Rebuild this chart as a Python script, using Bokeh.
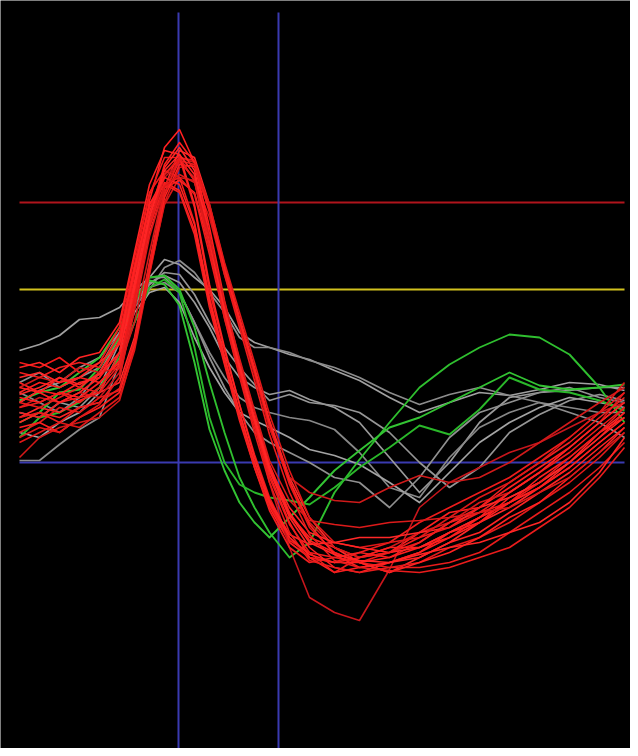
from bokeh.plotting import figure
from bokeh.models import ColumnDataSource, Range1d
from bokeh.embed import file_html
from bokeh.resources import INLINE

# time axis (samples)
t = [0, 20, 40, 60, 80, 100, 115, 130, 145, 160, 175, 190, 205, 220, 235,
     250, 270, 290, 315, 340, 370, 400, 430, 460, 490, 520, 550, 580, 605]

# reference levels
baseline_level = 0
yellow_level = 173
red_level = 260
cursor_1 = 159
cursor_2 = 259
cursor_top = 450

# red traces
red_01 = [60, 72, 68, 80, 85, 110, 180, 262, 315, 333, 300, 228, 155, 95, 42, -8, -52, -75, -85, -95, -90, -70, -50, -45, -25, -5, 15, 40, 60]
red_02 = [100, 95, 105, 90, 100, 135, 205, 270, 292, 285, 240, 165, 105, 50, 0, -42, -78, -90, -95, -100, -90, -80, -60, -50, -30, -10, 10, 35, 55]
red_03 = [45, 55, 50, 62, 70, 80, 125, 200, 275, 312, 305, 258, 198, 145, 95, 42, -15, -55, -85, -100, -110, -95, -80, -60, -45, -25, 0, 30, 50]
red_04 = [5, 25, 35, 40, 45, 62, 115, 190, 258, 285, 282, 245, 188, 140, 90, 35, -20, -60, -85, -95, -85, -70, -60, -40, -30, -10, 15, 40, 70]
red_05 = [80, 70, 85, 75, 90, 120, 192, 258, 280, 272, 232, 160, 100, 45, -5, -45, -80, -95, -100, -95, -85, -85, -70, -55, -40, -15, 5, 30, 45]
red_06 = [55, 65, 60, 70, 65, 90, 160, 235, 285, 300, 285, 225, 155, 95, 40, -20, -85, -135, -150, -158, -107, -45, -20, -5, 10, 20, 35, 50, 60]
red_07 = [75, 85, 80, 95, 90, 95, 140, 210, 275, 305, 300, 255, 195, 140, 88, 35, -15, -30, -38, -40, -25, -13, -20, -15, 0, 20, 40, 60, 75]
red_08 = [40, 50, 45, 55, 60, 85, 155, 230, 275, 282, 270, 215, 148, 92, 42, -8, -55, -85, -105, -110, -100, -95, -80, -70, -50, -30, -10, 15, 35]
red_09 = [90, 85, 95, 100, 95, 128, 198, 268, 305, 305, 255, 172, 112, 58, 8, -35, -75, -95, -100, -90, -80, -60, -45, -30, -15, 5, 25, 50, 70]
red_10 = [65, 60, 70, 65, 80, 100, 168, 240, 288, 303, 282, 215, 148, 92, 40, -12, -60, -95, -110, -105, -100, -90, -70, -60, -35, -20, 0, 25, 50]
red_11 = [30, 40, 55, 50, 65, 72, 120, 195, 268, 305, 302, 255, 192, 142, 92, 38, -22, -65, -90, -100, -105, -100, -85, -75, -60, -40, -20, 5, 30]
red_12 = [85, 90, 80, 85, 100, 118, 180, 250, 295, 315, 292, 225, 155, 98, 45, -5, -45, -70, -80, -75, -75, -70, -65, -45, -35, -20, 0, 25, 45]
red_13 = [50, 45, 60, 65, 70, 110, 188, 255, 278, 270, 228, 155, 98, 42, -5, -48, -85, -100, -95, -90, -95, -80, -60, -45, -20, 0, 20, 45, 65]
red_14 = [70, 80, 75, 85, 80, 102, 170, 245, 298, 320, 300, 235, 162, 102, 50, -2, -50, -78, -90, -100, -95, -85, -75, -55, -40, -25, -5, 20, 40]
red_15 = [20, 30, 40, 35, 50, 65, 112, 188, 260, 295, 298, 258, 200, 150, 100, 48, -8, -55, -80, -85, -80, -75, -55, -35, -20, 0, 25, 50, 80]
red_16 = [95, 100, 90, 105, 110, 140, 210, 278, 312, 308, 258, 178, 115, 58, 5, -38, -72, -82, -80, -85, -90, -85, -70, -55, -30, -10, 15, 40, 60]
red_17 = [55, 60, 70, 60, 75, 98, 165, 236, 278, 285, 268, 208, 145, 88, 35, -15, -62, -90, -110, -95, -90, -75, -65, -50, -40, -20, 5, 30, 55]
red_18 = [35, 40, 30, 45, 55, 70, 118, 192, 265, 298, 296, 252, 194, 142, 92, 40, -18, -62, -92, -105, -100, -90, -75, -60, -40, -25, -5, 20, 40]
red_19 = [60, 55, 65, 75, 70, 95, 162, 238, 288, 305, 282, 214, 144, 86, 30, -20, -70, -98, -105, -110, -105, -105, -100, -90, -70, -50, -30, -5, 20]
red_20 = [75, 70, 60, 70, 85, 122, 194, 258, 285, 278, 238, 162, 106, 50, 0, -40, -75, -92, -100, -100, -110, -100, -90, -75, -55, -40, -15, 10, 35]
red_21 = [45, 50, 40, 55, 60, 74, 122, 198, 270, 302, 298, 250, 188, 135, 82, 28, -30, -72, -98, -105, -108, -110, -105, -95, -85, -65, -45, -15, 15]
red_22 = [68, 75, 85, 78, 88, 110, 175, 245, 292, 308, 288, 222, 152, 96, 44, -6, -52, -80, -92, -98, -100, -92, -85, -80, -70, -60, -40, -10, 25]
red_23 = [25, 35, 30, 45, 58, 85, 152, 226, 276, 288, 280, 225, 160, 104, 52, 2, -38, -58, -62, -65, -60, -58, -55, -50, -45, -30, -15, 10, 30]

# gray traces
gray_01 = [112, 118, 127, 143, 145, 155, 172, 185, 203, 198, 185, 173, 155, 130, 120, 115, 108, 103, 92, 82, 65, 50, 60, 70, 67, 73, 80, 78, 72]
gray_02 = [2, 2, 18, 33, 45, 100, 140, 173, 195, 202, 190, 170, 150, 125, 115, 115, 110, 102, 95, 85, 70, 58, 68, 75, 67, 60, 50, 40, 25]
gray_03 = [50, 45, 60, 55, 75, 120, 160, 180, 187, 180, 160, 135, 105, 85, 75, 68, 72, 63, 55, 40, 5, -30, 0, 40, 65, 70, 72, 75, 75]
gray_04 = [70, 60, 50, 65, 90, 125, 155, 175, 180, 170, 140, 110, 85, 65, 55, 50, 45, 42, 33, 10, -25, -35, 5, 35, 50, 60, 55, 50, 50]
gray_05 = [30, 25, 40, 50, 70, 110, 150, 170, 175, 160, 125, 95, 70, 50, 42, 35, 25, 13, 7, -2, -20, -40, -10, 20, 40, 55, 65, 60, 55]
gray_06 = [80, 90, 75, 85, 95, 130, 165, 185, 185, 170, 140, 105, 75, 50, 30, 20, 10, 0, -15, -20, -45, -15, 25, 50, 60, 70, 75, 65, 60]
gray_07 = [60, 72, 80, 95, 105, 130, 158, 178, 190, 188, 168, 140, 115, 95, 78, 62, 68, 60, 57, 50, 30, 0, -25, -5, 30, 48, 62, 68, 62]

# green traces
green_01 = [40, 50, 70, 73, 95, 125, 160, 185, 187, 173, 135, 80, 30, -15, -45, -70, -95, -80, -30, 3, 40, 75, 98, 115, 128, 125, 108, 75, 40]
green_02 = [62, 70, 75, 90, 105, 135, 165, 182, 178, 157, 100, 33, -8, -40, -60, -75, -55, -35, -8, 12, 35, 45, 60, 75, 90, 77, 73, 75, 78]
green_03 = [25, 45, 50, 60, 75, 105, 140, 175, 183, 170, 115, 45, 0, -22, -30, -35, -38, -42, -25, -5, 15, 37, 28, 53, 85, 73, 70, 62, 52]

red_traces = [red_01, red_02, red_03, red_04, red_05, red_06, red_07, red_08, red_09, red_10,
              red_11, red_12, red_13, red_14, red_15, red_16, red_17, red_18, red_19, red_20,
              red_21, red_22, red_23]
red_colors = ["#ff2020", "#f21a1a", "#ff2a2a", "#d41818", "#ff2020", "#c8161c", "#d01a1a", "#ff2424",
              "#f01c1c", "#ff2020", "#e61a1a", "#ff2828", "#f22020", "#ff1e1e", "#e01818", "#ff2424",
              "#f01c1c", "#ff2020", "#e81c1c", "#ff2222", "#ea1c1c", "#ff2626", "#dc1a1a"]
gray_traces = [gray_01, gray_02, gray_03, gray_04, gray_05, gray_06, gray_07]
gray_colors = ["#a0a0a0", "#8c8c8c", "#9a9a9a", "#888888", "#a4a4a4", "#909090", "#969696"]
green_traces = [green_01, green_02, green_03]
green_colors = ["#2fbf2f", "#33c433", "#2ab82a"]

p = figure(width=630, height=748, output_backend="svg", toolbar_location=None,
           x_range=Range1d(-19, 611), y_range=Range1d(-286, 462),
           min_border=0, min_border_left=0, min_border_right=0,
           min_border_top=0, min_border_bottom=0)
p.axis.visible = False
p.xgrid.visible = False
p.ygrid.visible = False
p.background_fill_color = "black"
p.border_fill_color = "black"
p.outline_line_color = None

# reference lines
x0, x1 = t[0], t[-1]
p.segment(x0=[x0], y0=[red_level], x1=[x1], y1=[red_level], line_color="#b0141c", line_width=2)
p.segment(x0=[x0], y0=[yellow_level], x1=[x1], y1=[yellow_level], line_color="#d2c21e", line_width=2)
p.segment(x0=[x0], y0=[baseline_level], x1=[x1], y1=[baseline_level], line_color="#3a3ab0", line_width=2)
p.segment(x0=[cursor_1, cursor_2], y0=[cursor_top, cursor_top], x1=[cursor_1, cursor_2],
          y1=[-300, -300], line_color="#3a3ab0", line_width=2)

def add_group(traces, colors, width):
    src = ColumnDataSource(dict(xs=[t] * len(traces), ys=traces, c=colors))
    p.multi_line(xs="xs", ys="ys", line_color="c", line_width=width,
                 line_join="round", source=src)

add_group(gray_traces, gray_colors, 1.7)
add_group(green_traces, green_colors, 1.9)
add_group(red_traces, red_colors, 1.6)

open("out.html", "w").write(file_html(p, INLINE))
